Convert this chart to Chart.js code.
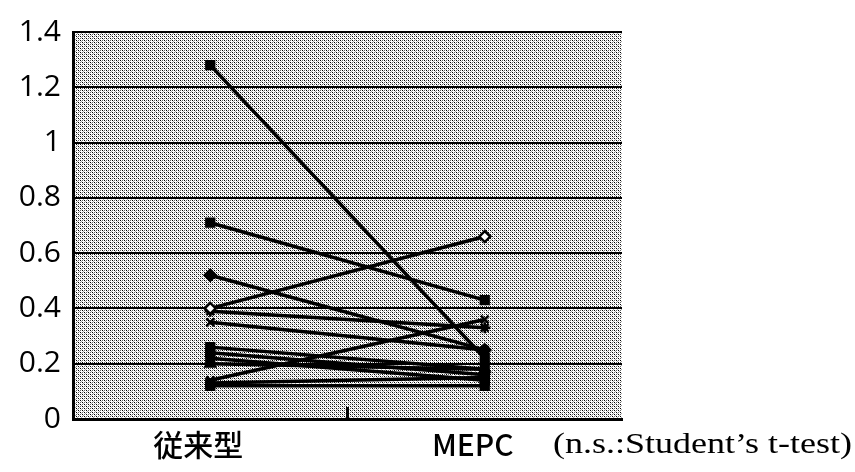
<!DOCTYPE html>
<html>
<head>
<meta charset="utf-8">
<script src="https://cdn.jsdelivr.net/npm/chart.js@4"></script>
<style>
html,body{margin:0;padding:0;background:#fff;}
#wrap{position:relative;width:855px;height:472px;}
#note{position:absolute;left:553px;top:426px;font-family:"Liberation Serif","DejaVu Serif",serif;font-size:30px;color:#000;white-space:nowrap;transform:scaleX(1.2);transform-origin:left top;}
</style>
</head>
<body>
<div id="wrap">
<canvas id="c" width="855" height="472"></canvas>
<div id="note">(n.s.:Student’s t-test)</div>
</div>
<script>
const categories = ['従来型', 'MEPC'];
const yTicks = [0, 0.2, 0.4, 0.6, 0.8, 1, 1.2, 1.4];
const s01 = [1.28, 0.22];
const s02 = [0.71, 0.43];
const s03 = [0.52, 0.25];
const s04 = [0.40, 0.66];
const s05 = [0.39, 0.33];
const s06 = [0.35, 0.25];
const s07 = [0.26, 0.18];
const s08 = [0.24, 0.16];
const s09 = [0.22, 0.14];
const s10 = [0.20, 0.18];
const s11 = [0.14, 0.36];
const s12 = [0.13, 0.15];
const s13 = [0.12, 0.12];
const series = [
  [s01, 'rect', '#000'],
  [s02, 'rect', '#000'],
  [s03, 'rectRot', '#000'],
  [s04, 'rectRot', '#fff'],
  [s05, 'star', '#000'],
  [s06, 'crossRot', '#000'],
  [s07, 'rect', '#000'],
  [s08, 'rect', '#000'],
  [s09, 'rect', '#000'],
  [s10, 'triangle', '#000'],
  [s11, 'crossRot', '#000'],
  [s12, 'rect', '#000'],
  [s13, 'rect', '#000']
];

function makePattern(ctx){
  const t = document.createElement('canvas');
  t.width = 4; t.height = 4;
  const g = t.getContext('2d');
  g.fillStyle = '#fff'; g.fillRect(0,0,4,4);
  g.fillStyle = '#000'; g.fillRect(0,0,1,1); g.fillRect(2,2,1,1);
  g.fillStyle = '#666'; g.fillRect(2,0,1,1); g.fillRect(0,2,1,1);
  g.fillStyle = '#aaa'; g.fillRect(1,1,1,1); g.fillRect(3,3,1,1);
  return ctx.createPattern(t, 'repeat');
}

const bgPlugin = {
  id: 'bg',
  beforeDraw(chart){
    const {ctx, chartArea:a} = chart;
    ctx.save();
    ctx.fillStyle = makePattern(ctx);
    ctx.fillRect(a.left, a.top, a.right-a.left, a.bottom-a.top);
    ctx.restore();
  },
  afterDatasetsDraw(chart){
    const {ctx, chartArea:a, scales} = chart;
    const x = (scales.x.getPixelForValue(0) + scales.x.getPixelForValue(1)) / 2;
    ctx.save();
    ctx.strokeStyle = '#000';
    ctx.lineWidth = 3;
    ctx.beginPath();
    ctx.moveTo(x, a.bottom - 12);
    ctx.lineTo(x, a.bottom);
    ctx.stroke();
    ctx.lineWidth = 2;
    ctx.beginPath();
    ctx.moveTo(a.left, a.top);
    ctx.lineTo(a.right, a.top);
    ctx.stroke();
    ctx.restore();
  }
};

new Chart(document.getElementById('c'), {
  type: 'line',
  data: {
    labels: categories,
    datasets: series.map(([d, style, fill]) => ({
      data: d,
      borderColor: '#000',
      borderWidth: 3.5,
      pointStyle: style,
      pointRadius: 5.5,
      pointBorderWidth: 2.5,
      pointBackgroundColor: fill,
      pointBorderColor: '#000',
      fill: false,
      tension: 0
    }))
  },
  options: {
    responsive: false,
    animation: false,
    layout: { padding: { left: 0, right: 233, top: 32, bottom: 0 } },
    plugins: { legend: { display: false }, tooltip: { enabled: false } },
    scales: {
      x: {
        offset: true,
        afterFit(scale){ scale.height = 53; },
        grid: { display: false, drawTicks: false },
        border: { display: true, color: '#000', width: 3 },
        ticks: {
          color: '#000',
          padding: 8,
          labelOffset: -12,
          font: { family: '"Noto Sans CJK JP", "Open Sans", sans-serif', size: 30, weight: '500' }
        }
      },
      y: {
        min: 0, max: 1.4,
        afterFit(scale){ scale.width = 73; },
        afterBuildTicks(scale){ scale.ticks = yTicks.map(v => ({value: v})); },
        grid: { color: '#000', lineWidth: 2, drawTicks: false },
        border: { display: true, color: '#000', width: 3 },
        ticks: {
          color: '#000',
          padding: 12,
          callback: v => String(+v.toFixed(1)),
          font: { family: '"Open Sans", Lato, sans-serif', size: 30 }
        }
      }
    }
  },
  plugins: [bgPlugin]
});
</script>
</body>
</html>
